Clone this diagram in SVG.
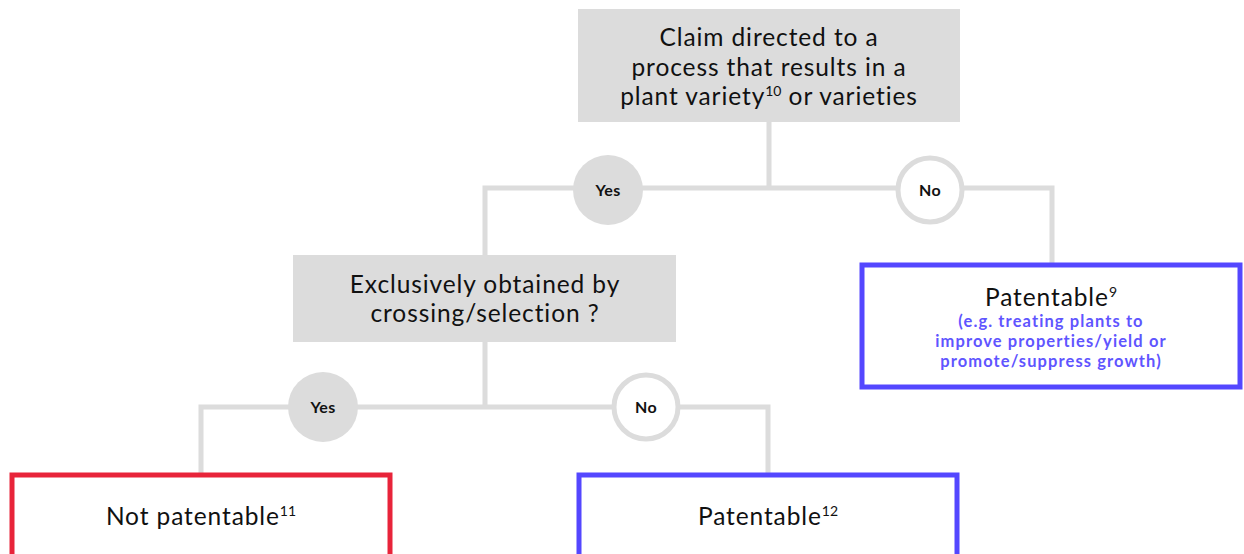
<svg xmlns="http://www.w3.org/2000/svg" width="1244" height="554" viewBox="0 0 1244 554">
<style>
.q{fill:#dcdcdc}
.t{font-family:Lato,"Liberation Sans",sans-serif;font-size:24.5px;letter-spacing:0.9px;fill:#111;text-anchor:middle}
.s{font-size:14px;letter-spacing:0}
.c{stroke:#dcdcdc;stroke-width:5;fill:none}
.yes{fill:#dcdcdc}
.no{fill:#fff;stroke:#dcdcdc;stroke-width:5}
.l{font-family:Lato,"Liberation Sans",sans-serif;font-size:16px;font-weight:bold;letter-spacing:0.3px;fill:#111;text-anchor:middle}
.b{fill:#fff;stroke:#5447ff;stroke-width:5}
.r{fill:#fff;stroke:#e8243a;stroke-width:5}
.sub{font-family:Lato,"Liberation Sans",sans-serif;font-size:16.5px;font-weight:bold;letter-spacing:1.1px;fill:#5f55ff;text-anchor:middle}
</style>
<rect width="1244" height="554" fill="#fff"/>
<g id="connectors">
<path class="c" d="M769 121V188M485 255V188H1052V265"/>
<path class="c" d="M485 342V407M201 475V407H768V475"/>
</g>
<g id="q1">
<rect class="q" x="578" y="9" width="382" height="113"/>
<text class="t" x="769" y="46">Claim directed to a</text>
<text class="t" x="769" y="76">process that results in a</text>
<text class="t" x="769" y="105">plant variety<tspan class="s" dy="-9">10</tspan><tspan dy="9"> or varieties</tspan></text>
</g>
<g id="yes1"><circle class="yes" cx="608" cy="190" r="35"/><text class="l" x="608" y="196">Yes</text></g>
<g id="no1"><circle class="no" cx="930" cy="190" r="32"/><text class="l" x="930" y="196">No</text></g>
<g id="q2">
<rect class="q" x="293" y="255" width="383" height="87"/>
<text class="t" x="485" y="293">Exclusively obtained by</text>
<text class="t" x="485" y="322">crossing/selection ?</text>
</g>
<g id="pat9">
<rect class="b" x="862" y="265" width="378" height="122"/>
<text class="t" x="1051" y="306">Patentable<tspan class="s" dy="-9">9</tspan></text>
<text class="sub" x="1051" y="327">(e.g. treating plants to</text>
<text class="sub" x="1051" y="347">improve properties/yield or</text>
<text class="sub" x="1051" y="367">promote/suppress growth)</text>
</g>
<g id="yes2"><circle class="yes" cx="323" cy="407" r="35"/><text class="l" x="323" y="413">Yes</text></g>
<g id="no2"><circle class="no" cx="646" cy="407" r="32"/><text class="l" x="646" y="413">No</text></g>
<g id="notpat">
<rect class="r" x="12" y="475" width="378" height="90"/>
<text class="t" x="201" y="525">Not patentable<tspan class="s" dy="-9">11</tspan></text>
</g>
<g id="pat12">
<rect class="b" x="579" y="475" width="378" height="90"/>
<text class="t" x="768" y="525">Patentable<tspan class="s" dy="-9">12</tspan></text>
</g>
</svg>
